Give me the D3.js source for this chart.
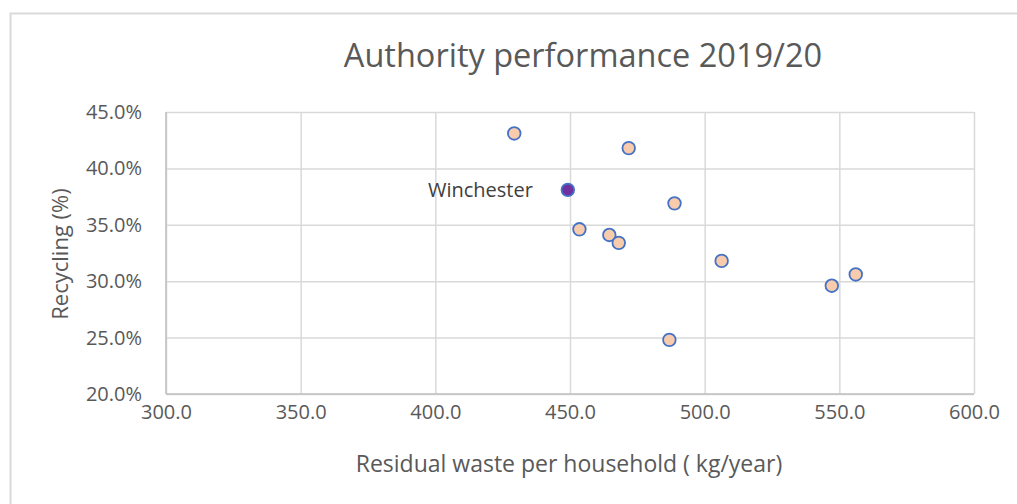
<!DOCTYPE html>
<html>
<head>
<meta charset="utf-8">
<script src="https://cdn.jsdelivr.net/npm/d3@7"></script>
<style>
  html, body { margin: 0; padding: 0; background: #fff; }
  svg { display: block; font-family: "Open Sans", "Noto Sans", sans-serif; }
</style>
</head>
<body>
<svg id="chart" width="1017" height="504"></svg>
<script>
// ---- data ----
const authorities = ["A1", "A2", "Winchester", "A4", "A5", "A6", "A7", "A8", "A9", "A10", "A11"];
const residualWaste = [429.3, 471.8, 449.2, 488.8, 453.5, 464.6, 468.1, 506.3, 547.2, 556.1, 486.9];
const recyclingRate = [43.1, 41.8, 38.1, 36.9, 34.6, 34.1, 33.4, 31.8, 29.6, 30.6, 24.8];
const xTicks = [300, 350, 400, 450, 500, 550, 600];
const yTicks = [20, 25, 30, 35, 40, 45];
const highlighted = "Winchester";

const svg = d3.select("#chart");
const W = 1017, H = 504;
const plot = { left: 166, right: 974, top: 112, bottom: 394 };

// chart frame
svg.append("rect")
  .attr("x", 10.5).attr("y", 13.5)
  .attr("width", W + 20).attr("height", H + 20)
  .attr("fill", "#fff").attr("stroke", "#d9d9d9").attr("stroke-width", 2);

const x = d3.scaleLinear().domain([300, 600]).range([plot.left, plot.right]);
const y = d3.scaleLinear().domain([20, 45]).range([plot.bottom, plot.top]);

// gridlines
const gx = svg.append("g")
  .attr("transform", `translate(0,${plot.bottom})`)
  .call(d3.axisBottom(x).tickValues(xTicks).tickSize(-(plot.bottom - plot.top)).tickFormat(""));
gx.select(".domain").remove();
gx.selectAll("line").attr("stroke", "#d9d9d9").attr("stroke-width", 1.5);

const gy = svg.append("g")
  .attr("transform", `translate(${plot.left},0)`)
  .call(d3.axisLeft(y).tickValues(yTicks).tickSize(-(plot.right - plot.left)).tickFormat(""));
gy.select(".domain").remove();
gy.selectAll("line").attr("stroke", "#d9d9d9").attr("stroke-width", 1.5);

// axis lines
svg.append("line").attr("x1", plot.left).attr("x2", plot.right)
  .attr("y1", plot.bottom).attr("y2", plot.bottom)
  .attr("stroke", "#bfbfbf").attr("stroke-width", 1.5);
svg.append("line").attr("x1", plot.left).attr("x2", plot.left)
  .attr("y1", plot.top).attr("y2", plot.bottom)
  .attr("stroke", "#bfbfbf").attr("stroke-width", 1.5);

// tick labels
const xl = svg.append("g")
  .attr("transform", `translate(0,${plot.bottom})`)
  .call(d3.axisBottom(x).tickValues(xTicks).tickSize(0).tickPadding(11).tickFormat(d3.format(".1f")));
xl.select(".domain").remove();
xl.selectAll("text").attr("fill", "#595959").style("font-size", "20px").style("font-family", "'Open Sans', sans-serif");

const yl = svg.append("g")
  .attr("transform", `translate(${plot.left},0)`)
  .call(d3.axisLeft(y).tickValues(yTicks).tickSize(0).tickPadding(24).tickFormat(d => d3.format(".1f")(d) + "%"));
yl.select(".domain").remove();
yl.selectAll("text").attr("fill", "#595959").style("font-size", "20px").style("font-family", "'Open Sans', sans-serif");

// title
svg.append("text")
  .attr("x", 583).attr("y", 67)
  .attr("text-anchor", "middle")
  .attr("fill", "#595959")
  .style("font-size", "32.5px")
  .text("Authority performance 2019/20");

// axis titles
svg.append("text")
  .attr("x", 569).attr("y", 472)
  .attr("text-anchor", "middle")
  .attr("fill", "#595959")
  .style("font-size", "23px")
  .text("Residual waste per household ( kg/year)");

svg.append("text")
  .attr("transform", "translate(68,254) rotate(-90)")
  .attr("text-anchor", "middle")
  .attr("fill", "#595959")
  .style("font-size", "22px")
  .text("Recycling (%)");

// points
const data = authorities.map((a, i) => ({ name: a, x: residualWaste[i], y: recyclingRate[i] }));
svg.append("g").selectAll("circle")
  .data(data)
  .join("circle")
  .attr("cx", d => x(d.x))
  .attr("cy", d => y(d.y))
  .attr("r", 6.3)
  .attr("fill", d => d.name === highlighted ? "#7030a0" : "#f8cbad")
  .attr("stroke", "#4472c4")
  .attr("stroke-width", 1.8);

// label for highlighted
data.filter(d => d.name === highlighted).forEach(d => {
  svg.append("text")
    .attr("x", x(d.x) - 35)
    .attr("y", y(d.y))
    .attr("dy", "0.35em")
    .attr("text-anchor", "end")
    .attr("fill", "#404040")
    .style("font-size", "20px")
    .text(d.name);
});
</script>
</body>
</html>
